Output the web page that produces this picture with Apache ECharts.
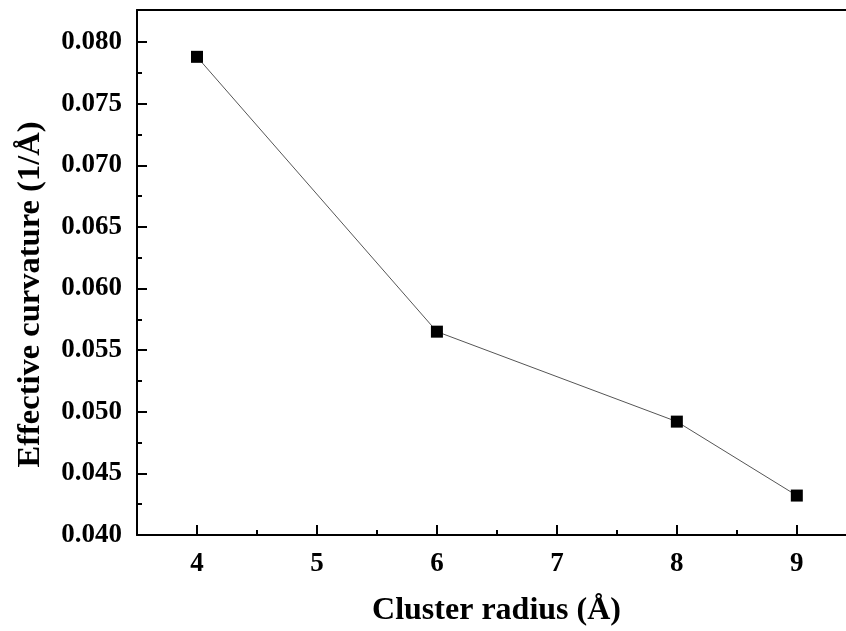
<!DOCTYPE html>
<html>
<head>
<meta charset="utf-8">
<script src="https://cdn.jsdelivr.net/npm/echarts@6/dist/echarts.min.js"></script>
<style>html,body{margin:0;padding:0;background:#fff;}#c{width:846px;height:631px;}</style>
</head>
<body>
<div id="c"></div>
<script>
const radius = [4, 6, 8, 9];
const curvature = [0.0788, 0.0565, 0.0492, 0.0432];
const xMajorTicks = [4, 5, 6, 7, 8, 9];
const xMinorTicks = [4.5, 5.5, 6.5, 7.5, 8.5];
const yMajorTicks = [0.040, 0.045, 0.050, 0.055, 0.060, 0.065, 0.070, 0.075, 0.080];
const yMinorTicks = [0.0425, 0.0475, 0.0525, 0.0575, 0.0625, 0.0675, 0.0725, 0.0775];

const font = 'Liberation Serif';
const chart = echarts.init(document.getElementById('c'));
const xMin = 3.5, xMax = 9.41, yMin = 0.040, yMax = 0.0826;
const lineStyle = { color: '#000', width: 2 };

chart.setOption({
  animation: false,
  grid: { left: 137, top: 10, right: 0, bottom: 96, containLabel: false, outerBoundsMode: 'none' },
  xAxis: [
    {
      type: 'value', min: xMin, max: xMax, position: 'bottom',
      name: 'Cluster radius (Å)', nameLocation: 'middle', nameGap: 60,
      nameTextStyle: { fontFamily: font, fontWeight: 'bold', fontSize: 32, color: '#000', padding: [0, 0, 0, 10] },
      axisLine: { show: true, onZero: false, lineStyle },
      axisTick: { show: true, inside: true, length: 10, customValues: xMajorTicks, lineStyle: { color: '#000', width: 2 } },
      axisLabel: { show: true, customValues: xMajorTicks, margin: 16, fontFamily: font, fontWeight: 'bold', fontSize: 27, color: '#000' },
      splitLine: { show: false }
    },
    {
      type: 'value', min: xMin, max: xMax, position: 'bottom',
      axisLine: { show: false, onZero: false },
      axisTick: { show: true, inside: true, length: 5, customValues: xMinorTicks, lineStyle: { color: '#000', width: 2 } },
      axisLabel: { show: false },
      splitLine: { show: false }
    },
    {
      type: 'value', min: xMin, max: xMax, position: 'top',
      axisLine: { show: true, onZero: false, lineStyle },
      axisTick: { show: false }, axisLabel: { show: false }, splitLine: { show: false }
    }
  ],
  yAxis: [
    {
      type: 'value', min: yMin, max: yMax, position: 'left',
      name: 'Effective curvature (1/Å)', nameLocation: 'middle', nameGap: 90,
      nameTextStyle: { fontFamily: font, fontWeight: 'bold', fontSize: 32.5, color: '#000', padding: [0, 44, 0, 0] },
      axisLine: { show: true, onZero: false, lineStyle },
      axisTick: { show: true, inside: true, length: 10, customValues: yMajorTicks, lineStyle: { color: '#000', width: 2 } },
      axisLabel: { show: true, customValues: yMajorTicks, margin: 15, fontFamily: font, fontWeight: 'bold', fontSize: 27, color: '#000',
        formatter: v => v.toFixed(3) },
      splitLine: { show: false }
    },
    {
      type: 'value', min: yMin, max: yMax, position: 'left',
      axisLine: { show: false, onZero: false },
      axisTick: { show: true, inside: true, length: 5, customValues: yMinorTicks, lineStyle: { color: '#000', width: 2 } },
      axisLabel: { show: false },
      splitLine: { show: false }
    }
  ],
  series: [{
    type: 'line',
    data: radius.map((r, i) => [r, curvature[i]]),
    symbol: 'rect', symbolSize: 12,
    itemStyle: { color: '#000' },
    lineStyle: { color: '#555', width: 1 },
    clip: false
  }]
});
</script>
</body>
</html>
